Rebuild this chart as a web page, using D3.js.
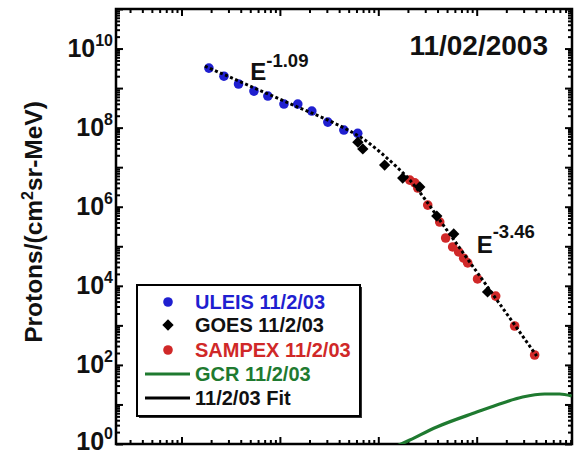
<!DOCTYPE html>
<html><head><meta charset="utf-8">
<script src="https://cdn.jsdelivr.net/npm/d3@7"></script>
<style>body{margin:0;background:#fff}text{font-family:"Liberation Sans",Arial,Helvetica,sans-serif;font-weight:bold}</style>
</head><body><svg id="c" width="574" height="455"></svg>
<script>
// ---- data (energy in MeV, flux in protons/(cm2 sr MeV)) ----
const uleisE = [0.19, 0.27, 0.38, 0.545, 0.755, 1.10, 1.52, 2.11, 3.07, 4.47, 6.18];
const uleisF = [3.2e9, 2.0e9, 1.27e9, 8.4e8, 6.3e8, 3.95e8, 3.95e8, 2.63e8, 1.38e8, 8.7e7, 7.2e7];
const goesE = [6.2, 6.96, 11.6, 17.7, 26.4, 39.3, 58.4, 129];
const goesF = [4.3e7, 2.9e7, 1.13e7, 5.3e6, 3.15e6, 5.8e5, 2.04e5, 7.0e3];
const sampexE = [20.9, 23.5, 25.2, 31.8, 42.1, 48.4, 57.0, 65.6, 73.8, 81.0, 102, 156, 243, 388];
const sampexF = [4.7e6, 4.0e6, 2.97e6, 1.1e6, 4.1e5, 1.62e5, 9.6e4, 7.2e4, 5.0e4, 3.8e4, 1.49e4, 5.5e3, 964, 178];
const gcrE = [14.7, 20.9, 39.3, 100, 184, 293, 490, 696, 921];
const gcrF = [0.84, 1.26, 2.69, 6.4, 10.9, 15.4, 18.4, 18.4, 16.4];
const fitE = [0.173, 0.496, 1.60, 3.22, 5.14, 7.30, 10.4, 14.7, 20.9, 29.7, 42.1, 67.2, 136, 407];
const fitF = [3.6e9, 1.13e9, 3.13e8, 1.47e8, 8.2e7, 4.86e7, 2.42e7, 1.13e7, 4.73e6, 1.57e6, 4.61e5, 9.0e4, 7.8e3, 168];
const yLabelExps = [0, 2, 4, 6, 8, 10];
const legendItems = ["ULEIS 11/2/03", "GOES 11/2/03", "SAMPEX 11/2/03", "GCR 11/2/03", "11/2/03 Fit"];
const titleText = "11/02/2003";
const lowIndex = "-1.09", highIndex = "-3.46";

const blue = "#1f1fd0", red = "#d02828", green = "#1f7a30";

const svg = d3.select("#c");
const L = 116, R = 572, T = 9, B = 444;
const x = d3.scaleLog().domain([0.0216, 930]).range([L, R]);
const y = d3.scaleLog().domain([1, 1e11]).range([B, T]);

svg.append("defs").append("clipPath").attr("id", "clip")
  .append("rect").attr("x", L).attr("y", T).attr("width", R - L).attr("height", B - T);

// ticks
const xMajor = [0.1, 1, 10, 100];
const xMinor = [];
[0.01, 0.1, 1, 10, 100].forEach(d => { for (let m = 2; m <= 9; m++) { const v = d * m; if (v > 0.0216 && v < 930) xMinor.push(v); } });
const yMajor = d3.range(0, 12).map(k => Math.pow(10, k));
const yMinor = [];
for (let k = 0; k < 11; k++) for (let m = 2; m <= 9; m++) yMinor.push(m * Math.pow(10, k));

function axis(gen, vals, size, tr) {
  const g = svg.append("g").attr("transform", tr)
    .call(gen.tickValues(vals).tickSize(size).tickFormat(""));
  g.select(".domain").remove();
  g.selectAll(".tick line").attr("stroke", "#000").attr("stroke-width", 2);
  return g;
}
const maj = 7, mnr = 4;
axis(d3.axisBottom(x), xMajor, -maj, `translate(0,${B})`);
axis(d3.axisBottom(x), xMinor, -mnr, `translate(0,${B})`);
axis(d3.axisTop(x), xMajor, -maj, `translate(0,${T})`);
axis(d3.axisTop(x), xMinor, -mnr, `translate(0,${T})`);
axis(d3.axisLeft(y), yMajor, -maj, `translate(${L},0)`);
axis(d3.axisLeft(y), yMinor, -mnr, `translate(${L},0)`);
axis(d3.axisRight(y), yMajor, -maj, `translate(${R},0)`);
axis(d3.axisRight(y), yMinor, -mnr, `translate(${R},0)`);

svg.append("rect").attr("x", L).attr("y", T).attr("width", R - L).attr("height", B - T)
  .attr("fill", "none").attr("stroke", "#000").attr("stroke-width", 2.5);

// y tick labels
yLabelExps.forEach(k => {
  const yy = Math.min(y(Math.pow(10, k)) + 8, 450);
  const t = svg.append("text").attr("x", 113).attr("y", yy)
    .attr("text-anchor", "end").attr("font-size", 25).attr("fill", "#111");
  t.append("tspan").text("10");
  t.append("tspan").attr("dy", -11).attr("font-size", 16).text(String(k));
});

// y title
const yt = svg.append("text").attr("transform", "translate(42,222) rotate(-90)")
  .attr("text-anchor", "middle").attr("font-size", 24.5).attr("fill", "#111");
yt.append("tspan").text("Protons/(cm");
yt.append("tspan").attr("dy", -9).attr("font-size", 16).text("2");
yt.append("tspan").attr("dy", 9).text("sr-MeV)");

// title
svg.append("text").attr("x", 548).attr("y", 55).attr("text-anchor", "end")
  .attr("font-size", 28).attr("fill", "#111").text(titleText);

const plot = svg.append("g").attr("clip-path", "url(#clip)");

// GCR
plot.append("path").datum(gcrE.map((e, i) => [e, gcrF[i]]))
  .attr("d", d3.line().x(d => x(d[0])).y(d => y(d[1])).curve(d3.curveMonotoneX))
  .attr("fill", "none").attr("stroke", green).attr("stroke-width", 3.2);

// markers
plot.selectAll(".u").data(uleisE.map((e, i) => [e, uleisF[i]])).join("circle")
  .attr("cx", d => x(d[0])).attr("cy", d => y(d[1])).attr("r", 4.8).attr("fill", blue);
plot.selectAll(".s").data(sampexE.map((e, i) => [e, sampexF[i]])).join("circle")
  .attr("cx", d => x(d[0])).attr("cy", d => y(d[1])).attr("r", 4.8).attr("fill", red);
const dia = d3.symbol(d3.symbolSquare, 64);
plot.selectAll(".g").data(goesE.map((e, i) => [e, goesF[i]])).join("path")
  .attr("d", dia).attr("fill", "#000")
  .attr("transform", d => `translate(${x(d[0])},${y(d[1])}) rotate(45)`);

// fit
plot.append("path").datum(fitE.map((e, i) => [e, fitF[i]]))
  .attr("d", d3.line().x(d => x(d[0])).y(d => y(d[1])).curve(d3.curveMonotoneX))
  .attr("fill", "none").attr("stroke", "#000").attr("stroke-width", 3)
  .attr("stroke-dasharray", "3,2.5");

// annotations
function ann(px, py, idx, dy) {
  const t = svg.append("text").attr("x", px).attr("y", py).attr("font-size", 24).attr("fill", "#111");
  t.append("tspan").text("E");
  t.append("tspan").attr("dy", dy).attr("font-size", 18.5).text(idx);
}
ann(x(0.5), y(1.6e9), lowIndex, -13);
ann(x(100), y(6.75e4), highIndex, -15);

// legend
const lg = svg.append("g");
lg.append("rect").attr("x", 139).attr("y", 287).attr("width", 223).attr("height", 131).attr("fill", "#333");
lg.append("rect").attr("x", 137).attr("y", 285).attr("width", 223).attr("height", 131)
  .attr("fill", "#fff").attr("stroke", "#000").attr("stroke-width", 2);
const rows = [302, 325, 350, 374, 398];
const cols = [blue, "#111", red, green, "#111"];
legendItems.forEach((s, i) => {
  lg.append("text").attr("x", 195).attr("y", rows[i] + 7).attr("font-size", 20)
    .attr("fill", cols[i]).text(s);
});
lg.append("circle").attr("cx", 168).attr("cy", rows[0]).attr("r", 4.8).attr("fill", blue);
lg.append("path").attr("d", dia).attr("fill", "#000").attr("transform", `translate(168,${rows[1]}) rotate(45)`);
lg.append("circle").attr("cx", 168).attr("cy", rows[2]).attr("r", 4.8).attr("fill", red);
lg.append("line").attr("x1", 145).attr("x2", 190).attr("y1", rows[3]).attr("y2", rows[3]).attr("stroke", green).attr("stroke-width", 3);
lg.append("line").attr("x1", 145).attr("x2", 190).attr("y1", rows[4]).attr("y2", rows[4]).attr("stroke", "#000").attr("stroke-width", 3);
</script></body></html>
